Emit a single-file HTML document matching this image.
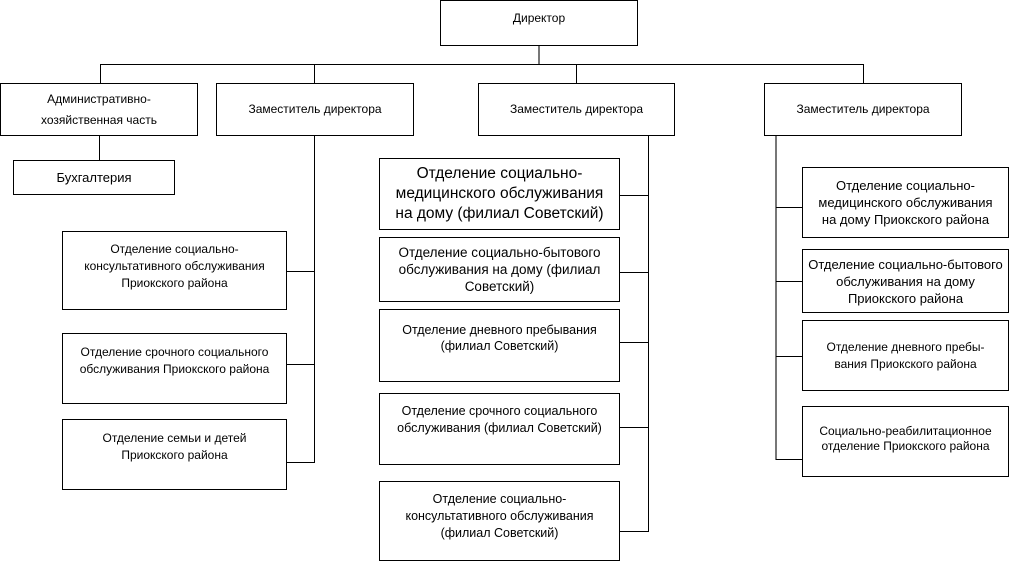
<!DOCTYPE html>
<html><head><meta charset="utf-8"><style>
body{margin:0;width:1010px;height:562px;background:#fff;position:relative;overflow:hidden;font-family:"Liberation Sans","DejaVu Sans",sans-serif;color:#000}
.b{position:absolute;border:1.3px solid #000;box-sizing:border-box;display:flex;justify-content:center;text-align:center;font-size:12px;line-height:17px;background:#fff}
.c{align-items:center}
.t{align-items:flex-start}
.l{position:absolute;background:#000}
</style></head><body>
<div class="l" style="left:538px;top:45px;width:2px;height:20px;background:#777"></div>
<div class="l" style="left:100px;top:64px;width:764px;height:1.3px"></div>
<div class="l" style="left:100px;top:64px;width:1.3px;height:19px"></div>
<div class="l" style="left:314px;top:64px;width:1.3px;height:19px"></div>
<div class="l" style="left:576px;top:64px;width:1.3px;height:19px"></div>
<div class="l" style="left:863px;top:64px;width:1.3px;height:19px"></div>
<div class="l" style="left:99px;top:135px;width:1.3px;height:25px"></div>
<div class="l" style="left:314px;top:135px;width:1.3px;height:328px"></div>
<div class="l" style="left:286px;top:271px;width:29px;height:1.3px"></div>
<div class="l" style="left:286px;top:364px;width:29px;height:1.3px"></div>
<div class="l" style="left:286px;top:462px;width:29px;height:1.3px"></div>
<div class="l" style="left:648px;top:135px;width:1.3px;height:397px"></div>
<div class="l" style="left:619px;top:195px;width:30px;height:1.3px"></div>
<div class="l" style="left:619px;top:272px;width:30px;height:1.3px"></div>
<div class="l" style="left:619px;top:342px;width:30px;height:1.3px"></div>
<div class="l" style="left:619px;top:427px;width:30px;height:1.3px"></div>
<div class="l" style="left:619px;top:531px;width:30px;height:1.3px"></div>
<div class="l" style="left:775px;top:135px;width:2px;height:325px;background:#777"></div>
<div class="l" style="left:776px;top:207px;width:27px;height:1.3px"></div>
<div class="l" style="left:776px;top:281px;width:27px;height:1.3px"></div>
<div class="l" style="left:776px;top:356px;width:27px;height:1.3px"></div>
<div class="l" style="left:776px;top:459px;width:27px;height:1.3px"></div>
<div class="b t" style="left:440px;top:0;width:198px;height:46px;padding-top:9px">Директор</div>
<div class="b c" style="left:0;top:83px;width:198px;height:53px;line-height:21px">Административно-<br>хозяйственная часть</div>
<div class="b c" style="left:216px;top:83px;width:198px;height:53px">Заместитель директора</div>
<div class="b c" style="left:478px;top:83px;width:197px;height:53px">Заместитель директора</div>
<div class="b c" style="left:764px;top:83px;width:198px;height:53px">Заместитель директора</div>
<div class="b c" style="left:13px;top:160px;width:162px;height:35px;font-size:13px">Бухгалтерия</div>
<div class="b t" style="left:62px;top:231px;width:225px;height:79px;padding-top:9px">Отделение социально-<br>консультативного обслуживания<br>Приокского района</div>
<div class="b t" style="left:62px;top:333px;width:225px;height:71px;padding-top:10px">Отделение срочного социального<br>обслуживания Приокского района</div>
<div class="b t" style="left:62px;top:419px;width:225px;height:71px;padding-top:10px">Отделение семьи и детей<br>Приокского района</div>
<div class="b c" style="left:379px;top:158px;width:241px;height:72px;font-size:15.5px;line-height:20px">Отделение социально-<br>медицинского обслуживания<br>на дому (филиал Советский)</div>
<div class="b c" style="left:379px;top:237px;width:241px;height:65px;font-size:13.5px">Отделение социально-бытового<br>обслуживания на дому (филиал<br>Советский)</div>
<div class="b t" style="left:379px;top:309px;width:241px;height:73px;padding-top:12px;line-height:16px;font-size:12.5px">Отделение дневного пребывания<br>(филиал Советский)</div>
<div class="b t" style="left:379px;top:393px;width:241px;height:72px;padding-top:9px;font-size:12.5px">Отделение срочного социального<br>обслуживания (филиал Советский)</div>
<div class="b t" style="left:379px;top:481px;width:241px;height:80px;padding-top:9px;font-size:12.5px">Отделение социально-<br>консультативного обслуживания<br>(филиал Советский)</div>
<div class="b c" style="left:802px;top:167px;width:207px;height:71px;font-size:13px">Отделение социально-<br>медицинского обслуживания<br>на дому Приокского района</div>
<div class="b c" style="left:802px;top:249px;width:207px;height:64px;font-size:13px">Отделение социально-бытового<br>обслуживания на дому<br>Приокского района</div>
<div class="b c" style="left:802px;top:320px;width:207px;height:71px">Отделение дневного пребы-<br>вания Приокского района</div>
<div class="b t" style="left:802px;top:406px;width:207px;height:71px;padding-top:17px;line-height:15px">Социально-реабилитационное<br>отделение Приокского района</div>
</body></html>
